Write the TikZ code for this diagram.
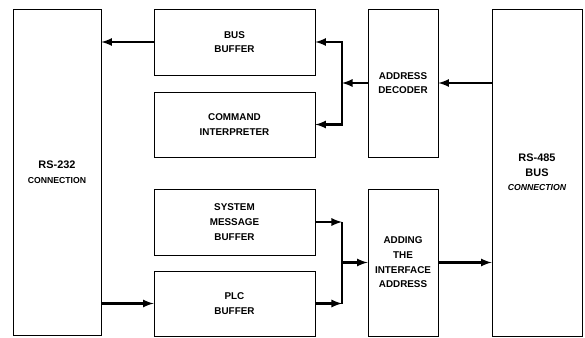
\documentclass[tikz,border=0pt]{standalone}
\usepackage{fontspec}
\setmainfont{Liberation Sans}
\usepackage{tikz}
\usetikzlibrary{arrows}

\begin{document}
\begin{tikzpicture}[x=0.75pt,y=-0.75pt,
  blk/.style={draw,line width=0.6pt,inner sep=0pt,align=center,
    font=\bfseries\fontsize{7.4}{11}\selectfont},
  arr/.style={-latex,line width=1.7pt},
  lin/.style={line width=1.7pt}]
\useasboundingbox (0,0) rectangle (585,337);

\node[blk,minimum width=66pt,minimum height=244.5pt] (rsa) at (57,172)
  {{\fontsize{8.2}{12}\selectfont RS-232}\\{\fontsize{6.5}{9}\selectfont CONNECTION}};
\node[blk,minimum width=120.75pt,minimum height=49.5pt] (bus) at (234.5,42) {BUS\\BUFFER};
\node[blk,minimum width=120.75pt,minimum height=48.75pt] (cmd) at (234.5,124.5) {COMMAND\\INTERPRETER};
\node[blk,minimum width=120.75pt,minimum height=49.5pt] (sys) at (234.5,222) {SYSTEM\\MESSAGE\\BUFFER};
\node[blk,minimum width=120.75pt,minimum height=48.75pt] (plc) at (234.5,303.5) {PLC\\BUFFER};
\node[blk,minimum width=52.5pt,minimum height=111pt] (dec) at (403,83) {ADDRESS\\DECODER};
\node[blk,minimum width=52.5pt,minimum height=110.25pt] (add) at (403,262.5) {ADDING\\THE\\INTERFACE\\ADDRESS};
\node[blk,minimum width=67.5pt,minimum height=245.25pt] (rsb) at (537,172.5)
  {{\fontsize{8.2}{12}\selectfont RS-485}\\{\fontsize{8.2}{10}\selectfont BUS}\\{\fontsize{6.5}{9}\selectfont\itshape CONNECTION}};

\coordinate (j1) at (342,83);
\coordinate (j2) at (342,262.5);

% upper path
\draw[arr] (rsb.west |- dec) -- (dec.east);
\draw[arr] (dec.west) -- (j1);
\draw[arr] (j1) |- (bus.east);
\draw[arr] (j1) |- (cmd.east);
\draw[arr] (bus.west) -- (bus.west -| rsa.east);

% lower path
\draw[arr] (plc.west -| rsa.east) -- (plc.west);
\draw[lin] (sys.east -| j2) -- (plc.east -| j2);
\draw[arr] (sys.east) -- (sys.east -| j2);
\draw[arr] (plc.east) -- (plc.east -| j2);
\draw[arr] (j2) -- (add.west);
\draw[arr] (add.east) -- (add.east -| rsb.west);

\end{tikzpicture}
\end{document}
